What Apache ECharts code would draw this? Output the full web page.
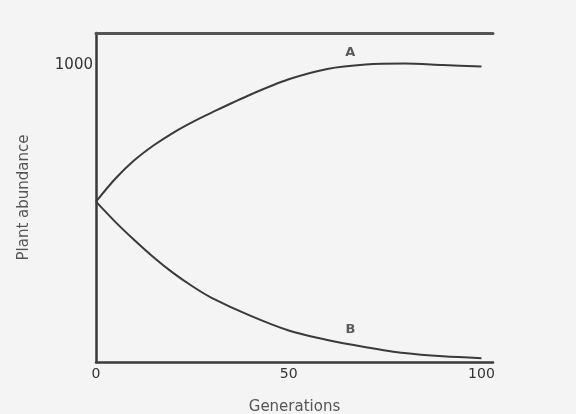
<!DOCTYPE html>
<html>
<head>
<meta charset="utf-8">
<script src="https://cdn.jsdelivr.net/npm/echarts@6/dist/echarts.min.js"></script>
<style>
  html, body { margin: 0; padding: 0; background: #f4f4f4; }
  #chart { width: 576px; height: 414px; }
</style>
</head>
<body>
<div id="chart"></div>
<script>
// generations on the x axis
const generations = [0, 5, 10, 15, 20, 25, 30, 40, 50, 60, 70, 80, 90, 100]
// curve A rises to ~1000, curve B falls towards 0
const curveA = [540, 617, 680, 730, 772, 808, 840, 900, 952, 987, 1002, 1005, 1000, 995]
const curveB = [540, 472, 410, 352, 300, 255, 216, 156, 106, 74, 50, 30, 19, 13]
// where the curve letters sit
const curveLabels = [[66, 1042, 'A'], [66, 108, 'B']]
const xTicks = [0, 50, 100]
const yTicks = [1000]

const chart = echarts.init(document.getElementById('chart'))

const ink = '#3a3a3a'
const textStyle = { fontFamily: 'DejaVu Sans', fontSize: 14, color: '#333' }

const option = {
  animation: false,
  backgroundColor: '#f4f4f4',
  grid: { left: 96, right: 83, top: 33, bottom: 52, outerBoundsMode: 'none' },
  xAxis: [
    {
      type: 'value',
      min: 0,
      max: 103,
      interval: 50,
      name: 'Generations',
      nameLocation: 'middle',
      nameGap: 38,
      nameTextStyle: { ...textStyle, fontSize: 15, color: '#555' },
      axisLine: { lineStyle: { color: ink, width: 2.5 } },
      axisTick: { show: false },
      splitLine: { show: false },
      axisLabel: {
        ...textStyle,
        margin: 5,
        showMaxLabel: false,
        formatter: v => (xTicks.includes(v) ? String(v) : '')
      }
    },
    {
      // the heavy rule along the top of the frame
      type: 'value',
      position: 'top',
      min: 0,
      max: 103,
      axisLine: { onZero: false, lineStyle: { color: '#555', width: 3 } },
      axisTick: { show: false },
      axisLabel: { show: false },
      splitLine: { show: false }
    }
  ],
  yAxis: {
    type: 'value',
    min: 0,
    max: 1108,
    interval: 1000,
    name: 'Plant abundance',
    nameLocation: 'middle',
    nameGap: 64,
    nameTextStyle: { ...textStyle, fontSize: 15, color: '#555' },
    axisLine: { show: true, lineStyle: { color: ink, width: 2.5 } },
    axisTick: { show: false },
    splitLine: { show: false },
    axisLabel: {
      ...textStyle,
      fontSize: 15,
      margin: 3,
      formatter: v => (yTicks.includes(v) ? String(v) : '')
    }
  },
  series: [
    {
      name: 'A',
      type: 'line',
      smooth: 0.3,
      symbol: 'none',
      data: generations.map((g, i) => [g, curveA[i]]),
      lineStyle: { color: ink, width: 2 }
    },
    {
      name: 'B',
      type: 'line',
      smooth: 0.3,
      symbol: 'none',
      data: generations.map((g, i) => [g, curveB[i]]),
      lineStyle: { color: ink, width: 2 }
    },
    {
      type: 'scatter',
      symbolSize: 0,
      data: curveLabels,
      label: {
        show: true,
        position: 'inside',
        formatter: p => p.data[2],
        ...textStyle,
        fontSize: 13,
        fontWeight: 'bold',
        color: '#333'
      }
    }
  ]
}

chart.setOption(option)
</script>
</body>
</html>
